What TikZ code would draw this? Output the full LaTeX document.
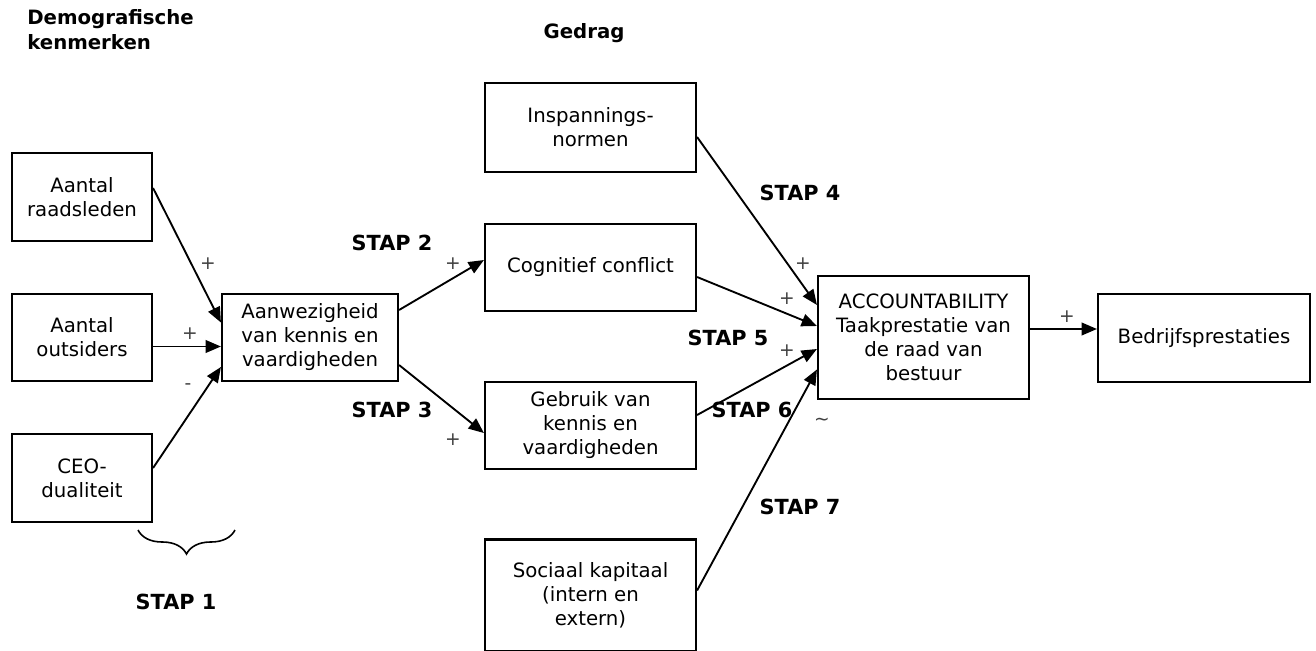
\documentclass[tikz,border=0pt]{standalone}
\usepackage{fontspec}
\setmainfont{DejaVu Sans}
\usetikzlibrary{arrows.meta,calc,decorations.pathreplacing}
\newcommand{\bodyfont}{\fontsize{14.8}{18}\selectfont}
\newcommand{\stapfont}{\fontsize{15.6}{18}\selectfont\bfseries}
\newcommand{\signfont}{\fontsize{14}{16}\selectfont}
\begin{document}
\begin{tikzpicture}[x=0.75pt,y=-0.75pt,
  box/.style args={#1/#2}{draw, line width=1.6pt, minimum width=#1*0.75pt,
    minimum height=#2*0.75pt, align=center, inner sep=0pt, font=\bodyfont},
  conn/.style={line width=1.4pt, -{Triangle[length=11.5pt,width=9.5pt]}},
  stap/.style={font=\stapfont, inner sep=0pt},
  sign/.style={font=\signfont, text=black!75, inner sep=0pt},
  heading/.style={font=\fontsize{14.8}{18.5}\selectfont\bfseries, inner sep=0pt, align=left}]
\useasboundingbox (0,0) rectangle (1316,650);

% headings
\node[heading, anchor=west] (hdemo) at (27,29.5) {Demografische\\kenmerken};
\node[heading] (hgedrag) at (584,33) {Gedrag};

% boxes
\node[box=140/88] (raad) at (82,197) {Aantal\\raadsleden};
\node[box=140/87] (outs) at (82,337.5) {Aantal\\outsiders};
\node[box=140/88] (ceo) at (82,478) {CEO-\\dualiteit};
\node[box=176/87] (aanw) at (310,337.5) {Aanwezigheid\\van kennis en\\vaardigheden};
\node[box=211/89] (insp) at (590.5,127.5) {Inspannings-\\normen};
\node[box=211/87] (cogn) at (590.5,267.5) {Cognitief conflict};
\node[box=211/87] (gebr) at (590.5,425.5) {Gebruik van\\kennis en\\vaardigheden};
\node[box=211/112] (soc) at (590.5,595.5) {Sociaal kapitaal\\(intern en\\extern)};
\node[box=211/123] (acc) at (923.5,337.5) {ACCOUNTABILITY\\Taakprestatie van\\de raad van\\bestuur};
\node[box=212/88] (bedr) at (1204,338) {Bedrijfsprestaties};

% connectors
\draw[conn] ($(raad.east)+(0,-9)$) -- ($(aanw.west)+(0,-15)$);
\draw[conn] ($(outs.east)+(0,9)$) -- ($(aanw.west)+(0,9)$);
\draw[conn] ($(ceo.east)+(0,-10)$) -- ($(aanw.west)+(0,29.5)$);
\draw[conn] ($(aanw.east)+(0,-27.5)$) -- ($(cogn.west)+(0,-7.5)$);
\draw[conn] ($(aanw.east)+(0,27.5)$) -- ($(gebr.west)+(0,7.5)$);
\draw[conn] ($(insp.east)+(0,9.5)$) -- ($(acc.west)+(0,-32.5)$);
\draw[conn] ($(cogn.east)+(0,9.5)$) -- ($(acc.west)+(0,-11.5)$);
\draw[conn] ($(gebr.east)+(0,-10.5)$) -- ($(acc.west)+(0,11.5)$);
\draw[conn] ($(soc.east)+(0,-5)$) -- ($(acc.west)+(0,32)$);
\draw[conn] ($(acc.east)+(0,-8.5)$) -- ($(bedr.west)+(0,-9)$);

% signs
\node[sign] (s1) at (208,264) {+};
\node[sign] (s2) at (190,334) {+};
\node[sign] (s3) at (188,387) {-};
\node[sign] (s4) at (453,264) {+};
\node[sign] (s5) at (453,440) {+};
\node[sign] (s6) at (803,264) {+};
\node[sign] (s7) at (787,299) {+};
\node[sign] (s8) at (787,351) {+};
\node[sign] (s9) at (1067,317) {+};
\node[sign] (s10) at (822,422) {\textasciitilde};

% stap labels
\node[stap] (st1) at (176,602) {STAP 1};
\node[stap] (st2) at (392,243) {STAP 2};
\node[stap] (st3) at (392,410) {STAP 3};
\node[stap] (st4) at (800,193) {STAP 4};
\node[stap] (st5) at (728,338) {STAP 5};
\node[stap] (st6) at (752,410) {STAP 6};
\node[stap] (st7) at (800,507) {STAP 7};

% brace
\draw[line width=1.2pt, decorate, decoration={brace, mirror, amplitude=18pt, aspect=0.5}]
  (138,530) -- (235,530);
\end{tikzpicture}
\end{document}
